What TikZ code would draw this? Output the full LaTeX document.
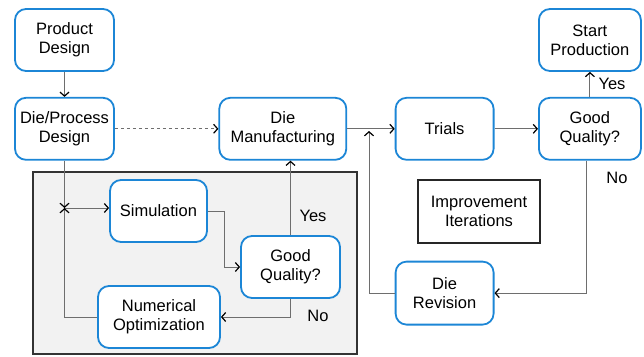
\documentclass[tikz,border=0pt]{standalone}
\usepackage{fontspec}
\setmainfont{Liberation Sans}
\usetikzlibrary{arrows.meta,positioning}

\definecolor{boxblue}{RGB}{28,134,214}
\definecolor{linegray}{RGB}{110,110,110}
\definecolor{panelgray}{RGB}{242,242,242}

\begin{document}
\begin{tikzpicture}[x=1pt,y=1pt,node distance=25pt,
    >={Straight Barb[length=4pt,width=9pt,line width=1.2pt,color=black]}]
  \tikzstyle{every node} = [font=\fontsize{16.5}{19}\selectfont,align=center]
  \tikzstyle{stage} = [draw=boxblue,line width=1.8pt,rounded corners=11pt,fill=white,
                       minimum width=99pt,minimum height=62pt,inner sep=2pt]
  \tikzstyle{flow} = [draw=linegray,line width=1pt,->]

  \useasboundingbox (0,0) rectangle (644,-356);

  % optimisation panel
  \draw[draw=black!80,line width=1.6pt,fill=panelgray] (33,-172) rectangle (357,-354);

  \node[stage] (Product) at (64.5,-40) {Product\\Design};
  \node[stage,below=of Product] (DieDesign) {Die/Process\\Design};
  \node[stage,minimum width=127pt,right=103.5pt of DieDesign] (Manuf) {Die\\Manufacturing};
  \node[stage,minimum width=98pt,right=47.5pt of Manuf] (Trials) {Trials};
  \node[stage,minimum width=102pt,right=43.5pt of Trials] (Quality) {Good\\Quality?};
  \node[stage,minimum width=102pt,above=of Quality] (Start) {Start\\Production};
  \node[stage,minimum width=98pt,minimum height=63pt,below=100pt of Trials] (Revision) {Die\\Revision};
  \node[draw=black!85,line width=1.6pt,minimum width=122pt,minimum height=63pt] (Iter)
    at (479,-211.5) {Improvement\\Iterations};

  \node[stage,minimum width=97pt] (Sim) at (158.5,-211) {Simulation};
  \node[stage] (SimQuality) at (290.5,-267) {Good\\Quality?};
  \node[stage,minimum width=122pt] (NumOpt) at (159,-317) {Numerical\\Optimization};

  \coordinate (join) at (64.5,-208);
  \coordinate (merge) at (369,-131);

  \draw[flow] (Product) -- (DieDesign);
  \draw[flow,dashed] (DieDesign) -- (Manuf);
  \draw[flow] (DieDesign) -- (join);
  \draw[flow] (join) -- (join -| Sim.west);
  \draw[flow] (Sim.east) -- ++(17,0) |- (SimQuality.west);
  \draw[flow] (SimQuality.south) |- (NumOpt.east);
  \draw[flow] (NumOpt.west) -| (join);
  \draw[flow] (SimQuality.north) -- (SimQuality.north |- Manuf.south);
  \draw[flow] (Manuf) -- (Trials);
  \draw[flow] (Trials) -- (Quality);
  \draw[flow] (Quality) -- (Start);
  \draw[flow] ([xshift=-3pt]Quality.south) |- (Revision.east);
  \draw[flow] (Revision.west) -| (merge);

  \node at (313,-216) {Yes};
  \node at (318,-316) {No};
  \node at (612,-84) {Yes};
  \node at (617,-178) {No};
\end{tikzpicture}
\end{document}
